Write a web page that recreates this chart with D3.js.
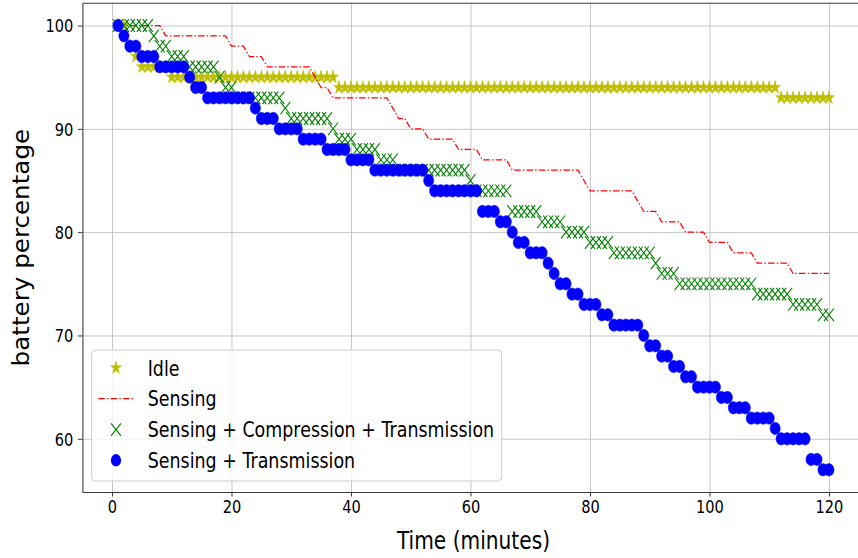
<!DOCTYPE html>
<html><head><meta charset="utf-8">
<script src="https://cdn.jsdelivr.net/npm/d3@7/dist/d3.min.js"></script>
<style>
body{margin:0;background:#fff}
svg{display:block}
text{font-family:"DejaVu Sans",sans-serif;fill:#000}
</style>
</head><body>
<svg id="c" width="858" height="558"></svg>
<script>
// ---------- data ----------
const minutes = [1,2,3,4,5,6,7,8,9,10,11,12,13,14,15,16,17,18,19,20,
  21,22,23,24,25,26,27,28,29,30,31,32,33,34,35,36,37,38,39,40,
  41,42,43,44,45,46,47,48,49,50,51,52,53,54,55,56,57,58,59,60,
  61,62,63,64,65,66,67,68,69,70,71,72,73,74,75,76,77,78,79,80,
  81,82,83,84,85,86,87,88,89,90,91,92,93,94,95,96,97,98,99,100,
  101,102,103,104,105,106,107,108,109,110,111,112,113,114,115,116,117,118,119,120];

const idle = [100,100,98,97,96,96,96,96,96,95,
  95,95,95,95,95,95,95,95,95,95,
  95,95,95,95,95,95,95,95,95,95,
  95,95,95,95,95,95,95,94,94,94,
  94,94,94,94,94,94,94,94,94,94,
  94,94,94,94,94,94,94,94,94,94,
  94,94,94,94,94,94,94,94,94,94,
  94,94,94,94,94,94,94,94,94,94,
  94,94,94,94,94,94,94,94,94,94,
  94,94,94,94,94,94,94,94,94,94,
  94,94,94,94,94,94,94,94,94,94,
  94,93,93,93,93,93,93,93,93,93];

const sensing = [100,100,100,100,100,100,100,100,99,99,
  99,99,99,99,99,99,99,99,99,98,
  98,98,97,97,97,96,96,96,96,96,
  96,96,96,95,94,94,93,93,93,93,
  93,93,93,93,93,93,92,91,91,90,
  90,90,89,89,89,89,89,88,88,88,
  88,87,87,87,87,87,86,86,86,86,
  86,86,86,86,86,86,86,86,85,84,
  84,84,84,84,84,84,84,83,82,82,
  82,81,81,81,81,80,80,80,80,79,
  79,79,79,78,78,78,78,77,77,77,
  77,77,77,76,76,76,76,76,76,76];

const sensingCompTrans = [100,100,100,100,100,100,99,98,98,97,
  97,97,96,96,96,96,96,95,94,94,
  93,93,93,93,93,93,93,93,92,91,
  91,91,91,91,91,91,90,89,89,89,
  88,88,88,88,87,87,87,86,86,86,
  86,86,86,86,86,86,86,86,86,85,
  84,84,84,84,84,84,82,82,82,82,
  82,81,81,81,81,80,80,80,80,79,
  79,79,79,78,78,78,78,78,78,78,
  77,76,76,76,75,75,75,75,75,75,
  75,75,75,75,75,75,75,74,74,74,
  74,74,74,73,73,73,73,73,72,72];

const sensingTrans = [100,99,98,98,97,97,97,96,96,96,
  96,96,95,94,94,93,93,93,93,93,
  93,93,93,92,91,91,91,90,90,90,
  90,89,89,89,89,88,88,88,88,87,
  87,87,87,86,86,86,86,86,86,86,
  86,86,85,84,84,84,84,84,84,84,
  84,82,82,82,81,81,80,79,79,78,
  78,78,77,76,75,75,74,74,73,73,
  73,72,72,71,71,71,71,71,70,69,
  69,68,68,67,67,66,66,65,65,65,
  65,64,64,63,63,63,62,62,62,62,
  61,60,60,60,60,60,58,58,57,57];

const seriesNames = ["Idle","Sensing","Sensing + Compression + Transmission","Sensing + Transmission"];
const xTicks = [0,20,40,60,80,100,120];
const yTicks = [60,70,80,90,100];
const xLabel = "Time (minutes)";
const yLabel = "battery percentage";

// ---------- drawing ----------
const SX = 0.82;            // horizontal squeeze of the reference figure
const L = 82.4, R = 864.5, T = 3.3, B = 492;
const svg = d3.select("#c");
const x = d3.scaleLinear().domain([-4.95, 125.95]).range([L, R]);
const y = d3.scaleLinear().domain([54.85, 102.15]).range([B, T]);

// grid
svg.append("g").attr("transform", `translate(0,${B})`)
  .call(d3.axisBottom(x).tickValues(xTicks).tickSize(-(B - T)).tickFormat("").tickSizeOuter(0))
  .call(g => g.select(".domain").remove())
  .call(g => g.selectAll("line").attr("stroke", "#c6c6c6").attr("stroke-width", 1));
svg.append("g").attr("transform", `translate(${L},0)`)
  .call(d3.axisLeft(y).tickValues(yTicks).tickSize(-(R - L)).tickFormat("").tickSizeOuter(0))
  .call(g => g.select(".domain").remove())
  .call(g => g.selectAll("line").attr("stroke", "#c6c6c6").attr("stroke-width", 1));

// series data
const rows = minutes.map((m, i) => ({m, idle: idle[i], s: sensing[i], sct: sensingCompTrans[i], st: sensingTrans[i]}));

function starPath(Rr) {
  const pts = [];
  for (let i = 0; i < 10; i++) {
    const a = -Math.PI / 2 + i * Math.PI / 5;
    const r = i % 2 ? Rr * 0.381966 : Rr;
    pts.push([Math.cos(a) * r * SX, Math.sin(a) * r]);
  }
  return "M" + pts.map(p => p[0].toFixed(2) + "," + p[1].toFixed(2)).join("L") + "Z";
}
const STAR = starPath(6.9);
const XM = "M-5,-6.3L5,6.3M-5,6.3L5,-6.3";

const yellow = "#bfbf00", red = "#ff0000", green = "#008000", blue = "#0000ff";

// Idle stars
svg.append("g").selectAll("path").data(rows).join("path")
  .attr("d", STAR).attr("fill", yellow).attr("stroke", yellow).attr("stroke-width", 0.6)
  .attr("transform", d => `translate(${x(d.m)},${y(d.idle)})`);

// Sensing dash-dot line
svg.append("path").datum(rows)
  .attr("d", d3.line().x(d => x(d.m)).y(d => y(d.s)))
  .attr("fill", "none").attr("stroke", red).attr("stroke-width", 1.25)
  .attr("stroke-dasharray", "6.5,2.2,1.4,2.2");

// Sensing + Compression + Transmission x markers
svg.append("g").selectAll("path").data(rows).join("path")
  .attr("d", XM).attr("fill", "none").attr("stroke", green).attr("stroke-width", 1.1)
  .attr("transform", d => `translate(${x(d.m)},${y(d.sct)})`);

// Sensing + Transmission circles
svg.append("g").selectAll("ellipse").data(rows).join("ellipse")
  .attr("cx", d => x(d.m)).attr("cy", d => y(d.st)).attr("rx", 5.1).attr("ry", 6.2)
  .attr("fill", blue).attr("stroke", blue).attr("stroke-width", 0.5);

// axes
const xAxis = svg.append("g").attr("transform", `translate(0,${B})`)
  .call(d3.axisBottom(x).tickValues(xTicks).tickSize(4.5).tickSizeOuter(0).tickFormat(d3.format("d")));
xAxis.selectAll("text").attr("y", 21.3).attr("dy", 0).attr("font-size", 17.8)
  .attr("font-family", "DejaVu Sans").attr("transform", `scale(${SX},1)`).attr("fill", "#000");
const yAxis = svg.append("g").attr("transform", `translate(${L},0)`)
  .call(d3.axisLeft(y).tickValues(yTicks).tickSize(4.5).tickSizeOuter(0).tickFormat(d3.format("d")));
yAxis.selectAll("text").attr("x", -9.1 / SX).attr("y", 6.4).attr("dy", 0).attr("font-size", 17.8)
  .attr("font-family", "DejaVu Sans").attr("transform", `scale(${SX},1)`).attr("fill", "#000");
svg.selectAll(".domain").attr("stroke", "#3a3a3a").attr("stroke-width", 1.1);
svg.selectAll(".tick line").filter(function(){ return !this.getAttribute("stroke") || this.getAttribute("stroke") === "currentColor"; })
  .attr("stroke", "#3a3a3a");
// top spine
svg.append("line").attr("x1", L).attr("x2", R).attr("y1", T).attr("y2", T)
  .attr("stroke", "#3a3a3a").attr("stroke-width", 1.1);

// axis labels
svg.append("text").attr("x", ((L + R) / 2) / SX).attr("y", 549.5).attr("text-anchor", "middle")
  .attr("font-size", 24.6).attr("transform", `scale(${SX},1)`).text(xLabel);
svg.append("text").attr("text-anchor", "middle").attr("font-size", 24.6)
  .attr("transform", `translate(29,${(T + B) / 2}) rotate(-90) scale(1,0.9)`).text(yLabel);

// legend
const lg = svg.append("g");
lg.append("rect").attr("x", 91.7).attr("y", 350).attr("width", 410).attr("height", 131)
  .attr("rx", 4).attr("fill", "#fff").attr("fill-opacity", 0.8).attr("stroke", "#cccccc").attr("stroke-width", 1);
const rowY = [367.8, 398.6, 429.6, 460.3];
const mx = 116;
lg.append("path").attr("d", STAR).attr("fill", yellow).attr("stroke", yellow).attr("stroke-width", 0.6)
  .attr("transform", `translate(${mx},${rowY[0]})`);
lg.append("line").attr("x1", 98.3).attr("x2", 133.3).attr("y1", rowY[1]).attr("y2", rowY[1])
  .attr("stroke", red).attr("stroke-width", 1.25).attr("stroke-dasharray", "6.5,2.2,1.4,2.2");
lg.append("path").attr("d", XM).attr("fill", "none").attr("stroke", green).attr("stroke-width", 1.1)
  .attr("transform", `translate(${mx},${rowY[2]})`);
lg.append("ellipse").attr("cx", mx).attr("cy", rowY[3]).attr("rx", 5.1).attr("ry", 6.2).attr("fill", blue);
seriesNames.forEach((n, i) => {
  lg.append("text").attr("x", 147.7 / SX).attr("y", rowY[i] + 7.8).attr("font-size", 21.3)
    .attr("transform", `scale(${SX},1)`).text(n);
});
</script>
</body></html>
